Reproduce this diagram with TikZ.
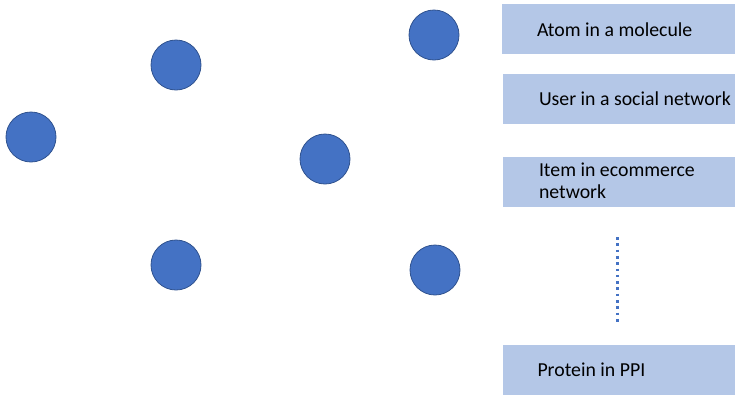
\documentclass[tikz,border=0pt]{standalone}
\usepackage{fontspec}
\setmainfont{Carlito}
\usepackage{tikz}
\usetikzlibrary{positioning}
\definecolor{nodeblue}{HTML}{4472C4}
\definecolor{nodeedge}{HTML}{2F528F}
\definecolor{boxblue}{HTML}{B4C7E7}
\tikzstyle{vertex} = [circle, fill=nodeblue, draw=nodeedge, line width=0.8pt, minimum size=50pt, inner sep=0pt]
\tikzstyle{entity} = [rectangle, fill=boxblue, minimum width=233pt, minimum height=50pt, inner sep=0pt]
\tikzstyle{entitytext} = [align=left, inner sep=0pt, font=\fontsize{19.8}{22.5}\selectfont]

\begin{document}
\begin{tikzpicture}[x=1pt, y=-1pt]
  \useasboundingbox (0,0) rectangle (735,394);

  % Nodes of the graph
  \node[vertex] (v1) at (434,35) {};
  \node[vertex] (v2) at (176,65) {};
  \node[vertex] (v3) at (31,137) {};
  \node[vertex] (v4) at (325,159) {};
  \node[vertex] (v5) at (176,265) {};
  \node[vertex] (v6) at (435,270) {};

  % What a node can be
  \node[entity] (atom) at (618.5,29) {};
  \node[entitytext, right=35pt of atom.west, yshift=-1pt] (atomtext) {Atom in a molecule};
  \node[entity] (user) at (619.5,99) {};
  \node[entitytext, right=36pt of user.west] (usertext) {User in a social network};
  \node[entity] (item) at (619.5,182) {};
  \node[entitytext, right=36pt of item.west, yshift=1pt] (itemtext) {Item in ecommerce\\network};
  \node[entity] (protein) at (619,369.5) {};
  \node[entitytext, right=35pt of protein.west] (proteintext) {Protein in PPI};

  % Dots for the rest
  \coordinate (dottop) at (617.5,237);
  \coordinate (dotbottom) at (617.5,325);
  \draw[nodeblue, line width=2.6pt, dash pattern=on 2.6pt off 3.7pt] (dottop) -- (dotbottom);
\end{tikzpicture}
\end{document}
